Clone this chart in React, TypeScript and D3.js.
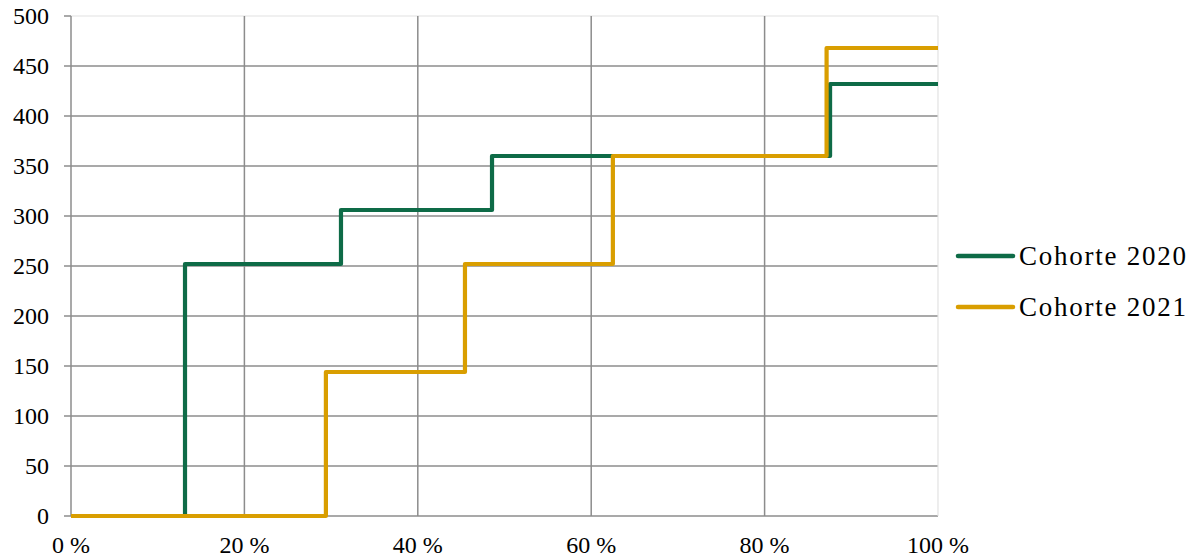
import React from "react";
import * as d3 from "d3";

const seriesNames = ["Cohorte 2020", "Cohorte 2021"];
const seriesColors = ["#0e6b47", "#d99e00"];
// step positions (fraction of population) and values after each step
const cohort2020X = [0, 0.1315, 0.3114, 0.4856, 0.8755, 1];
const cohort2020Y = [0, 252, 306, 360, 432, 432];
const cohort2021X = [0, 0.294, 0.4544, 0.625, 0.8715, 1];
const cohort2021Y = [0, 144, 252, 360, 468, 468];
const yTicks = [0, 50, 100, 150, 200, 250, 300, 350, 400, 450, 500];
const xTicks = [0, 0.2, 0.4, 0.6, 0.8, 1];

const W = 1197;
const H = 559;
const left = 71;
const right = 938;
const top = 16;
const bottom = 516;
const FONT = "'Liberation Serif', serif";

export default function App() {
  const x = d3.scaleLinear().domain([0, 1]).range([left, right]);
  const y = d3.scaleLinear().domain([0, 500]).range([bottom, top]);
  const line = d3
    .line<[number, number]>()
    .x((d) => x(d[0]))
    .y((d) => y(d[1]))
    .curve(d3.curveStepAfter);

  const series = [
    cohort2020X.map((v, i) => [v, cohort2020Y[i]] as [number, number]),
    cohort2021X.map((v, i) => [v, cohort2021Y[i]] as [number, number]),
  ];

  return (
    <svg
      width={W}
      height={H}
      style={{ position: "absolute", left: 0, top: 0, background: "#fff" }}
    >
      {/* horizontal gridlines */}
      {yTicks.map((t) => (
        <line
          key={"h" + t}
          x1={t === 500 ? left : left - 7}
          x2={right}
          y1={y(t)}
          y2={y(t)}
          stroke={t === 500 ? "#e2e2e2" : "#8c8c8c"}
          strokeWidth={t === 500 ? 1.2 : 1.5}
        />
      ))}
      {/* tick stub for 500 */}
      <line x1={left - 7} x2={left} y1={y(500)} y2={y(500)} stroke="#8c8c8c" strokeWidth={1.5} />
      {/* vertical gridlines */}
      {xTicks.map((t) => (
        <line
          key={"v" + t}
          x1={x(t)}
          x2={x(t)}
          y1={top}
          y2={bottom}
          stroke={t === 1 ? "#e2e2e2" : "#8c8c8c"}
          strokeWidth={t === 1 ? 1.2 : 1.5}
        />
      ))}
      {/* y labels */}
      {yTicks.map((t) => (
        <text
          key={"yl" + t}
          x={49}
          y={y(t)}
          dy="0.35em"
          textAnchor="end"
          fontFamily={FONT}
          fontSize={24}
          fill="#000"
        >
          {t}
        </text>
      ))}
      {/* x labels */}
      {xTicks.map((t) => (
        <text
          key={"xl" + t}
          x={x(t)}
          y={553}
          textAnchor="middle"
          fontFamily={FONT}
          fontSize={24}
          fill="#000"
        >
          {Math.round(t * 100) + " %"}
        </text>
      ))}
      {/* series */}
      {series.map((s, i) => (
        <path
          key={"s" + i}
          d={line(s) || ""}
          fill="none"
          stroke={seriesColors[i]}
          strokeWidth={4.2}
          strokeLinejoin="round"
        />
      ))}
      {/* legend */}
      {seriesNames.map((n, i) => (
        <g key={"lg" + i} transform={`translate(958, ${256 + i * 51})`}>
          <line x1={0} x2={55} y1={0} y2={0} stroke={seriesColors[i]} strokeWidth={4.5} strokeLinecap="round" />
          <text
            x={61}
            y={0}
            dy="0.35em"
            fontFamily={FONT}
            fontSize={27}
            fill="#000"
            textLength={167}
            lengthAdjust="spacing"
          >
            {n}
          </text>
        </g>
      ))}
    </svg>
  );
}
